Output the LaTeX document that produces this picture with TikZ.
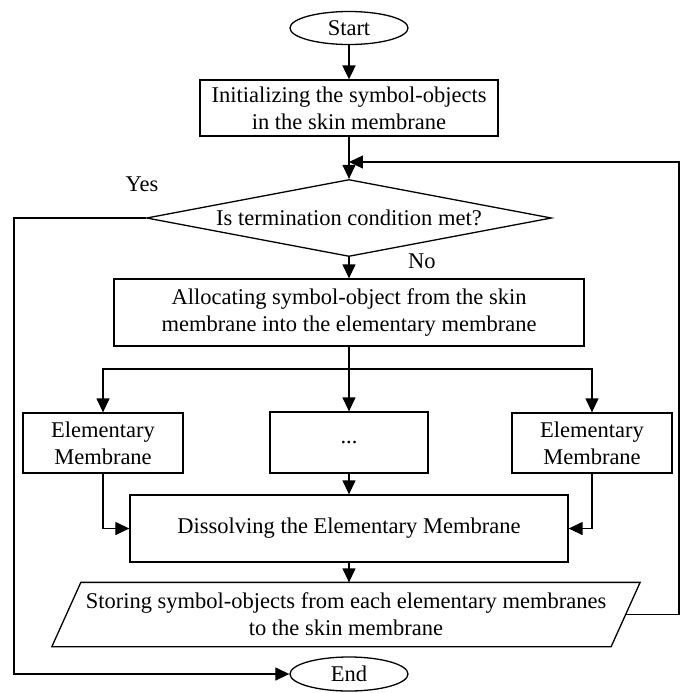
\documentclass[tikz,border=0pt]{standalone}
\usepackage{fontspec}
\setmainfont{Liberation Serif}
\usetikzlibrary{shapes.geometric,arrows.meta,calc}
\begin{document}
\begin{tikzpicture}[x=0.5pt,y=-0.5pt, line width=0.65pt,
  font=\fontsize{11.25}{13.5}\selectfont,
  >={Triangle[length=7pt,width=6.5pt]},
  proc/.style={draw, rectangle, inner sep=0pt, align=center},
  term/.style={draw, ellipse, inner sep=0pt, minimum width=59pt, minimum height=16.5pt},
  lbl/.style={inner sep=0pt}]
\useasboundingbox (0,0) rectangle (683,693);
% nodes
\node[term] (start) at (349,28) {Start};
\node[proc, minimum width=149pt, minimum height=28pt] (init) at (349,108)
  {Initializing the symbol-objects\\in the skin membrane};
\node[draw, diamond, aspect=5.26, inner sep=0pt, minimum width=202.5pt, minimum height=38.5pt]
  (cond) at (349,218) {Is termination condition met?};
\node[proc, minimum width=235pt, minimum height=33.5pt] (alloc) at (349,312.5)
  {Allocating symbol-object from the skin\\membrane into the elementary membrane};
\node[proc, minimum width=80pt, minimum height=30pt] (left) at (103,443)
  {Elementary\\Membrane};
\node[proc, minimum width=79pt, minimum height=30.5pt] (mid) at (349,442.5) {...};
\node[proc, minimum width=80pt, minimum height=30pt] (right) at (592,443)
  {Elementary\\Membrane};
\node[proc, minimum width=219pt, minimum height=33.5pt] (diss) at (349,528.5)
  {Dissolving the Elementary Membrane};
\node[inner sep=0pt, minimum width=279pt, minimum height=31.5pt, align=center]
  (store) at (346,614.5)
  {Storing symbol-objects from each elementary membranes\\to the skin membrane};
\draw ($(store.north west)+(14.5,0)$) -- ($(store.north east)+(14.5,0)$)
  -- ($(store.south east)+(-14.5,0)$) -- ($(store.south west)+(-14.5,0)$) -- cycle;
\node[term, minimum height=17pt] (end) at (349,674) {End};
\node[lbl] (yes) at (142,184) {Yes};
\node[lbl] (no) at (422,261) {No};
% helper coordinates
\coordinate (fb) at (349,162);
\coordinate (rt) at (679,162);
\coordinate (lc) at (14,218);
\coordinate (br) at (349,369);
% connectors
\draw[->, line width=1pt] (start) -- (init);
\draw[->] (init.south) -- (cond.north);
\draw[->] (store.east) -| (rt) -- (fb);
\draw[->] (cond.west) -- (lc) |- (end.west);
\draw[->] (cond.south) -- (alloc.north);
\draw (alloc.south) -- (br);
\draw[->] (br) -| (left.north);
\draw[->] (br) -| (right.north);
\draw[->] (br) -- (mid.north);
\draw[->] (mid.south) -- (diss.north);
\draw[->] (left.south) |- (diss.west);
\draw[->] (right.south) |- (diss.east);
\draw[->] (diss.south) -- (diss.south |- store.north);
\end{tikzpicture}
\end{document}
